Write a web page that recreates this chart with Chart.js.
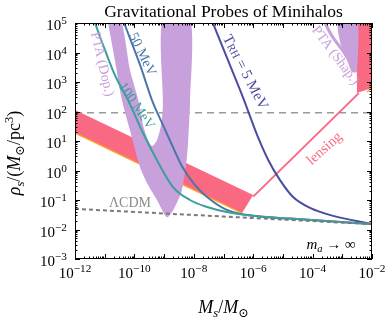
<!DOCTYPE html>
<html><head><meta charset="utf-8">
<script src="https://cdn.jsdelivr.net/npm/chart.js@4.4.1/dist/chart.umd.min.js"></script>
<style>html,body{margin:0;padding:0;background:#fff;}#wrap{width:390px;height:322px;}</style>
</head><body><div id="wrap"><canvas id="c" width="390" height="322"></canvas></div>
<script>
const TITLE = 'Gravitational Probes of Minihalos';
const xTickValues = [1e-12, 1e-10, 1e-8, 1e-6, 1e-4, 1e-2];
const xTickExponents = ['\u221212', '\u221210', '\u22128', '\u22126', '\u22124', '\u22122'];
const yTickValues = [1e-3, 1e-2, 1e-1, 1e0, 1e1, 1e2, 1e3, 1e4, 1e5];
const yTickExponents = ['\u22123', '\u22122', '\u22121', '0', '1', '2', '3', '4', '5'];

// lensing band (pink) polygon
const bandM = [5e-13, 1e-6, 4.2e-7, 5e-13];
const bandRho = [156, 0.148, 0.036, 26];
const bandEdgeM = [5e-13, 4.2e-7];
const bandEdgeRho = [26, 0.036];
const lensM = [1e-6, 3.6e-3];
const lensRho = [0.13, 420];
const lensTopM = [3.1e-3, 1.5e-2, 1.5e-2, 3.1e-3];
const lensTopRho = [2e5, 2e5, 720, 425];
const lensTopEdgeM = [6.8e-3, 1.2e-2];
const lensTopEdgeRho = [457, 800];

// PTA (Dop.) + neighbouring band (purple)
const dopM = [1.2e-11, 3.3e-11, 7.1e-11, 1.35e-10, 1.95e-10, 2.9e-10, 3.9e-10, 5.75e-10, 7.9e-10, 9.1e-10, 9.1e-10, 7.4e-9, 7.4e-9, 6.9e-9, 5.9e-9, 4.0e-9, 2.3e-9, 1.26e-9, 5.75e-10, 2.9e-10, 1.55e-10, 7.1e-11, 3.8e-11, 2.2e-11];
const dopRho = [1.5e5, 1.5e5, 2570, 245, 35, 10.7, 6.8, 10.7, 35, 166, 1.5e5, 1.5e5, 166, 35, 2.9, 0.22, 0.058, 0.026, 0.1, 0.32, 1.3, 23, 245, 5600];

// PTA (Shap.) region and arc (purple)
const shapM = [6.6e-4, 3.1e-3, 3.1e-3, 2.1e-3, 1.44e-3, 9.0e-4, 7.2e-4];
const shapRho = [1.5e5, 1.5e5, 2190, 2190, 5600, 17800, 49000];
const shapArcM = [2.4e-4, 4.5e-4, 8.3e-4, 1.44e-3, 2.1e-3];
const shapArcRho = [1.2e5, 36000, 15500, 7000, 3500];

// reference lines
const hLineM = [1e-12, 1e-2];
const hLineRho = [90, 90];
const lcdmM = [1e-12, 1e-7, 1e-2];
const lcdmRho = [0.05, 0.0275, 0.0152];

// reheating temperature curves
const t100M = [4.7e-12, 1.02e-11, 2.2e-11, 6.1e-11, 1.95e-10, 6.2e-10, 2.0e-9, 7.4e-9, 2.8e-8, 1.3e-7, 1e-6, 1.7e-5, 1e-2];
const t100Rho = [1e5, 12200, 1730, 245, 18.7, 1.95, 0.275, 0.1, 0.058, 0.039, 0.029, 0.0235, 0.0155];
const t50M = [4.5e-11, 1.55e-10, 3.9e-10, 9.1e-10, 1.85e-9, 4.0e-9, 1.1e-8, 2.8e-8, 1.3e-7, 1e-6, 1.7e-5, 1e-2];
const t50Rho = [1e5, 3800, 245, 35, 7.3, 1.4, 0.32, 0.126, 0.046, 0.029, 0.0235, 0.0155];
const t5M = [4.4e-8, 1.4e-7, 4.9e-7, 1.35e-6, 3.2e-6, 7.9e-6, 2.2e-5, 8.2e-5, 4.9e-4, 1e-2];
const t5Rho = [1e5, 5600, 245, 16, 2.27, 0.48, 0.126, 0.054, 0.029, 0.0155];

const PURPLE = '#c8a0dc', PINK = '#f96a82', ORANGE = '#ffa020', TEAL = '#3d9f9a', STEEL = '#4a76a8', INDIGO = '#4b4ba3', GREY = '#999999';
const SERIF = '"Liberation Serif", "DejaVu Serif", serif';

function pts(xs, ys) { return xs.map((x, i) => ({ x: x, y: ys[i] })); }
function poly(xs, ys, color, order, tension) {
  return { data: pts(xs, ys), showLine: true, fill: 'shape', backgroundColor: color, borderColor: color, borderWidth: 0, pointRadius: 0, tension: tension || 0, order: order };
}
function line(xs, ys, color, width, order, opts) {
  return Object.assign({ data: pts(xs, ys), showLine: true, fill: false, borderColor: color, borderWidth: width, pointRadius: 0, order: order, borderCapStyle: 'butt' }, opts || {});
}

function fontStr(p, size) { return (p.i ? 'italic ' : '') + (Math.round(size * (p.s || 1) * 10) / 10) + 'px ' + SERIF; }
function drawRich(ctx, parts, x, y, o) {
  const size = o.size;
  ctx.save(); ctx.translate(x, y); ctx.rotate((o.angle || 0) * Math.PI / 180);
  ctx.fillStyle = o.color || '#000'; ctx.textBaseline = 'alphabetic'; ctx.textAlign = 'left';
  const widths = parts.map(p => { ctx.font = fontStr(p, size); return ctx.measureText(p.t).width; });
  const total = widths.reduce((s, w) => s + w, 0);
  let cx = o.align === 'right' ? -total : (o.align === 'left' ? 0 : -total / 2);
  const by = o.middle ? size * 0.33 : 0;
  parts.forEach((p, i) => { ctx.font = fontStr(p, size); ctx.fillText(p.t, cx, by + (p.dy || 0) * size); cx += widths[i]; });
  ctx.restore();
}

const labels = [
  { parts: [{ t: 'PTA (Dop.)' }], m: 8.7e-12, r: 4100, angle: 77, color: PURPLE, size: 14 },
  { parts: [{ t: '50 MeV' }], m: 1.95e-10, r: 8900, angle: 64, color: STEEL, size: 14 },
  { parts: [{ t: '100 MeV' }], m: 1.23e-10, r: 160, angle: 56, color: TEAL, size: 14 },
  { parts: [{ t: 'T' }, { t: 'RH', s: 0.72 }, { t: ' = 5 MeV' }], m: 5.7e-7, r: 2190, angle: 62.5, color: INDIGO, size: 15 },
  { parts: [{ t: 'PTA (Shap.)' }], m: 6.2e-4, r: 8200, angle: 53, color: PURPLE, size: 14 },
  { parts: [{ t: 'lensing' }], m: 2.4e-4, r: 5.8, angle: -41.5, color: PINK, size: 14.5 },
  { parts: [{ t: '\u039bCDM' }], m: 7.1e-11, r: 0.085, angle: 0, color: '#8c8c8c', size: 14 },
  { parts: [{ t: 'm', i: 1 }, { t: 'a', i: 1, s: 0.7, dy: 0.2 }, { t: ' \u2192 \u221e' }], m: 4.2e-4, r: 0.0032, angle: 0, color: '#000', size: 15 }
];

const decor = {
  id: 'decor',
  afterDatasetsDraw(chart) {
    const ctx = chart.ctx, a = chart.chartArea, xs = chart.scales.x, ys = chart.scales.y;
    ctx.save();
    labels.forEach(l => drawRich(ctx, l.parts, xs.getPixelForValue(l.m), ys.getPixelForValue(l.r), { size: l.size, angle: l.angle, color: l.color, middle: true }));
    ctx.strokeStyle = '#000'; ctx.lineWidth = 1;
    ctx.beginPath();
    for (let e = -12; e <= -2; e++) for (let m = 1; m <= 9; m++) {
      const v = m * Math.pow(10, e); if (v > 1.0001e-2) continue;
      const px = Math.round(xs.getPixelForValue(v)) + 0.5, L = m === 1 ? 5 : 2.5;
      ctx.moveTo(px, a.bottom); ctx.lineTo(px, a.bottom - L);
      ctx.moveTo(px, a.top); ctx.lineTo(px, a.top + L);
    }
    for (let e = -3; e <= 5; e++) for (let m = 1; m <= 9; m++) {
      const v = m * Math.pow(10, e); if (v > 1.0001e5) continue;
      const py = Math.round(ys.getPixelForValue(v)) + 0.5, L = m === 1 ? 5 : 2.5;
      ctx.moveTo(a.left, py); ctx.lineTo(a.left + L, py);
      ctx.moveTo(a.right, py); ctx.lineTo(a.right - L, py);
    }
    ctx.stroke();
    ctx.strokeRect(Math.round(a.left) + 0.5, Math.round(a.top) + 0.5, Math.round(a.right - a.left) - 1, Math.round(a.bottom - a.top) - 1);
    xTickValues.forEach((v, i) => drawRich(ctx, [{ t: '10' }, { t: xTickExponents[i], s: 0.75, dy: -0.4 }], xs.getPixelForValue(v), a.bottom + 19, { size: 15 }));
    yTickValues.forEach((v, i) => drawRich(ctx, [{ t: '10' }, { t: yTickExponents[i], s: 0.75, dy: -0.4 }], a.left - 8, ys.getPixelForValue(v) + 7, { size: 15, align: 'right' }));
    drawRich(ctx, [{ t: 'M', i: 1 }, { t: 's', i: 1, s: 0.7, dy: 0.22 }, { t: '/' }, { t: 'M', i: 1 }, { t: '\u2299', s: 0.7, dy: 0.22 }], (a.left + a.right) / 2, 313, { size: 18 });
    drawRich(ctx, [{ t: '\u03c1', i: 1 }, { t: 's', i: 1, s: 0.7, dy: 0.22 }, { t: '/(' }, { t: 'M', i: 1 }, { t: '\u2299', s: 0.7, dy: 0.22 }, { t: '/pc' }, { t: '3', s: 0.7, dy: -0.4 }, { t: ')' }], 20, (a.top + a.bottom) / 2 + 12, { size: 18, angle: -90 });
    ctx.restore();
  }
};

new Chart(document.getElementById('c'), {
  type: 'line',
  data: {
    datasets: [
      line(hLineM, hLineRho, GREY, 1.5, 40, { borderDash: [7, 5] }),
      poly(bandM, bandRho, PINK, 30),
      line(bandEdgeM, bandEdgeRho, ORANGE, 1.3, 29),
      poly(lensTopM, lensTopRho, PINK, 30),
      line(lensM, lensRho, PINK, 2, 29),
      line(lensTopEdgeM, lensTopEdgeRho, ORANGE, 1.3, 29),
      poly(dopM, dopRho, PURPLE, 20, 0.25),
      poly(shapM, shapRho, PURPLE, 20, 0.2),
      line(shapArcM, shapArcRho, PURPLE, 3, 20, { cubicInterpolationMode: 'monotone' }),
      line(t100M, t100Rho, TEAL, 2, 10, { cubicInterpolationMode: 'monotone' }),
      line(t50M, t50Rho, STEEL, 2, 10, { cubicInterpolationMode: 'monotone' }),
      line(t5M, t5Rho, INDIGO, 2, 10, { cubicInterpolationMode: 'monotone' }),
      line(lcdmM, lcdmRho, '#7a7a7a', 2, 5, { borderDash: [4, 3] })
    ]
  },
  options: {
    responsive: false, animation: false, devicePixelRatio: 1, events: [],
    layout: { padding: { left: 75, right: 18, top: 0, bottom: 63 } },
    plugins: {
      legend: { display: false }, tooltip: { enabled: false },
      title: { display: true, text: TITLE, color: '#000', font: { family: SERIF, size: 17.5, weight: 'normal', lineHeight: 1.2 }, padding: { top: 2, bottom: 0 } }
    },
    scales: {
      x: { type: 'logarithmic', min: 1e-12, max: 1e-2, ticks: { display: false }, grid: { display: false, drawTicks: false }, border: { display: false }, afterFit: s => { s.height = 0; } },
      y: { type: 'logarithmic', min: 1e-3, max: 1e5, ticks: { display: false }, grid: { display: false, drawTicks: false }, border: { display: false }, afterFit: s => { s.width = 0; } }
    }
  },
  plugins: [decor]
});
</script></body></html>
